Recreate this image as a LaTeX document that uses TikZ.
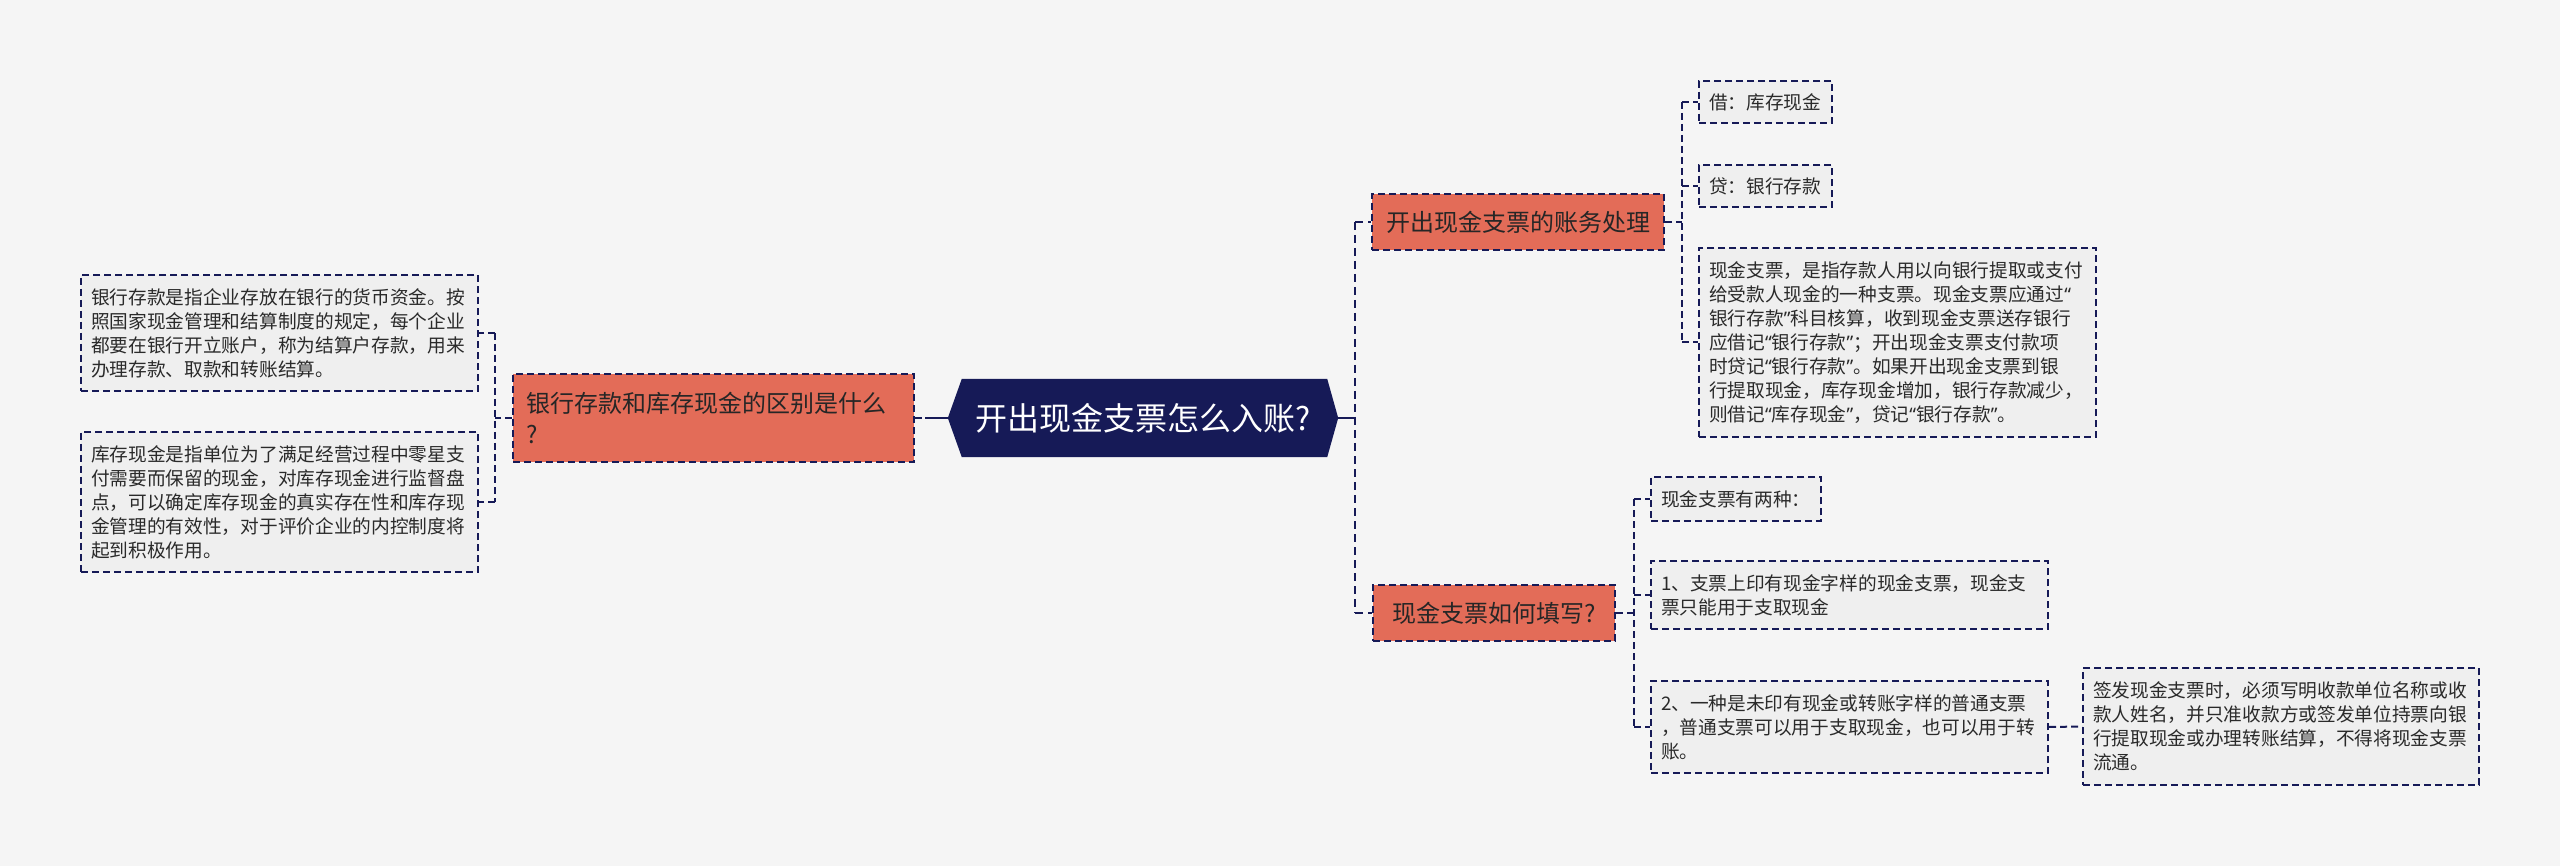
\documentclass[tikz,border=0pt]{standalone}
\usepackage{fontspec}
\setmainfont{Noto Sans CJK SC}
\newfontfamily\latinq{Noto Sans}
\newcommand{\qopen}{{\latinq “}}
\newcommand{\qclose}{{\latinq ”}}
\usetikzlibrary{calc,backgrounds}
\definecolor{bgc}{HTML}{F5F5F5}
\definecolor{navy}{HTML}{161A57}
\definecolor{salmon}{HTML}{E36C58}
\definecolor{leaffill}{HTML}{EFEFEF}
\definecolor{txt}{HTML}{2A2A2A}
\definecolor{btxt}{HTML}{262626}
\begin{document}
\begin{tikzpicture}[x=1pt,y=-1pt,
  leaf/.style={draw=navy, line width=2pt, dash pattern=on 7pt off 4pt, fill=leaffill,
    text=txt, align=left, inner xsep=10pt, inner ysep=0pt,
    font=\fontsize{18.7}{24}\selectfont, anchor=center},
  branch/.style={draw=navy, line width=2pt, dash pattern=on 7pt off 4pt, fill=salmon,
    text=btxt, inner ysep=0pt, anchor=center, font=\fontsize{24}{31}\selectfont},
  rootnode/.style={inner sep=0pt, text=white, font=\fontsize{32}{38}\selectfont,
    minimum width=390pt, minimum height=78pt, anchor=center},
  conn/.style={draw=navy, line width=2pt, dash pattern=on 7pt off 4pt},
  trunk/.style={draw=navy, line width=2.8pt, dash pattern=on 8pt off 5pt},
  trunksolid/.style={draw=navy, line width=2.8pt}
]
\useasboundingbox (0,0) rectangle (2560,866);

% root
\node[rootnode] (root) at (1143,418) {开出现金支票怎么入账?};

% left branch
\node[branch, align=left, inner xsep=13pt, text width=375pt, minimum height=88pt] (lb) at (713.5,418)
  {银行存款和库存现金的区别是什么\\?};
\node[leaf, text width=377pt, minimum height=116pt] (L1) at (279.5,333)
  {银行存款是指企业存放在银行的货币资金。按\\照国家现金管理和结算制度的规定，每个企业\\都要在银行开立账户，称为结算户存款，用来\\办理存款、取款和转账结算。};
\node[leaf, text width=377pt, minimum height=140pt] (L2) at (279.5,502)
  {库存现金是指单位为了满足经营过程中零星支\\付需要而保留的现金，对库存现金进行监督盘\\点，可以确定库存现金的真实存在性和库存现\\金管理的有效性，对于评价企业的内控制度将\\起到积极作用。};

% right branch 1
\node[branch, align=center, inner xsep=13pt, text width=266pt, minimum height=56pt] (b1) at (1518,222) {开出现金支票的账务处理};
\node[leaf, text width=113pt, minimum height=42pt] (c11) at (1765.5,102) {借：库存现金};
\node[leaf, text width=113pt, minimum height=42pt] (c12) at (1765.5,186) {贷：银行存款};
\node[leaf, text width=377pt, minimum height=189pt] (c13) at (1897.5,342.5)
  {现金支票，是指存款人用以向银行提取或支付\\给受款人现金的一种支票。现金支票应通过\qopen\\银行存款\qclose 科目核算，收到现金支票送存银行\\应借记\qopen 银行存款\qclose ；开出现金支票支付款项\\时贷记\qopen 银行存款\qclose 。如果开出现金支票到银\\行提取现金，库存现金增加，银行存款减少，\\则借记\qopen 库存现金\qclose ，贷记\qopen 银行存款\qclose 。};

% right branch 2
\node[branch, align=center, inner xsep=13pt, text width=216pt, minimum height=56pt] (b2) at (1494,613) {现金支票如何填写?};
\node[leaf, text width=150pt, minimum height=44pt] (c21) at (1736,499) {现金支票有两种：};
\node[leaf, text width=377pt, minimum height=68pt] (c22) at (1849.5,595)
  {1、支票上印有现金字样的现金支票，现金支\\票只能用于支取现金};
\node[leaf, text width=377pt, minimum height=92pt] (c23) at (1849.5,727)
  {2、一种是未印有现金或转账字样的普通支票\\，普通支票可以用于支取现金，也可以用于转\\账。};
\node[leaf, text width=376pt, minimum height=117pt] (c231) at (2281,726.5)
  {签发现金支票时，必须写明收款单位名称或收\\款人姓名，并只准收款方或签发单位持票向银\\行提取现金或办理转账结算，不得将现金支票\\流通。};

% junctions
\coordinate (lj) at (495,418);
\coordinate (rj) at (1355,418);
\coordinate (j1) at (1682,222);
\coordinate (j2) at (1634,613);

% connectors: root
\draw[trunk] (root.west) -- (lb.east);
\draw[trunksolid] (root.west) -- ($(root.west)+(-23,0)$);
\draw[trunksolid] (root.east) -- (rj);
\draw[trunk] (rj |- b1) -- (rj |- b2);
\draw[trunk] (rj |- b1) -- (b1.west);
\draw[trunk] (rj |- b2) -- (b2.west);

% left
\draw[conn] (lb.west) -- (lj);
\draw[conn] (lj |- L1) -- (lj |- L2);
\draw[conn] (lj |- L1) -- (L1.east);
\draw[conn] (lj |- L2) -- (L2.east);

% branch 1
\draw[conn] (b1.east) -- (j1);
\draw[conn] (j1 |- c11) -- (j1 |- c13);
\draw[conn] (j1 |- c11) -- (c11.west);
\draw[conn] (j1 |- c12) -- (c12.west);
\draw[conn] (j1 |- c13) -- (c13.west);

% branch 2
\draw[conn] (b2.east) -- (j2);
\draw[conn] (j2 |- c21) -- (j2 |- c23);
\draw[conn] (j2 |- c21) -- (c21.west);
\draw[conn] (j2 |- c22) -- (c22.west);
\draw[conn] (j2 |- c23) -- (c23.west);
\draw[conn] (c23.east) -- (c231.west);

\begin{scope}[on background layer]
\fill[bgc] (0,0) rectangle (2560,866);
\fill[navy] (root.west) -- ($(root.north west)+(14,0)$) -- ($(root.north east)+(-11,0)$)
  -- (root.east) -- ($(root.south east)+(-11,0)$) -- ($(root.south west)+(14,0)$) -- cycle;
\end{scope}
\end{tikzpicture}
\end{document}
